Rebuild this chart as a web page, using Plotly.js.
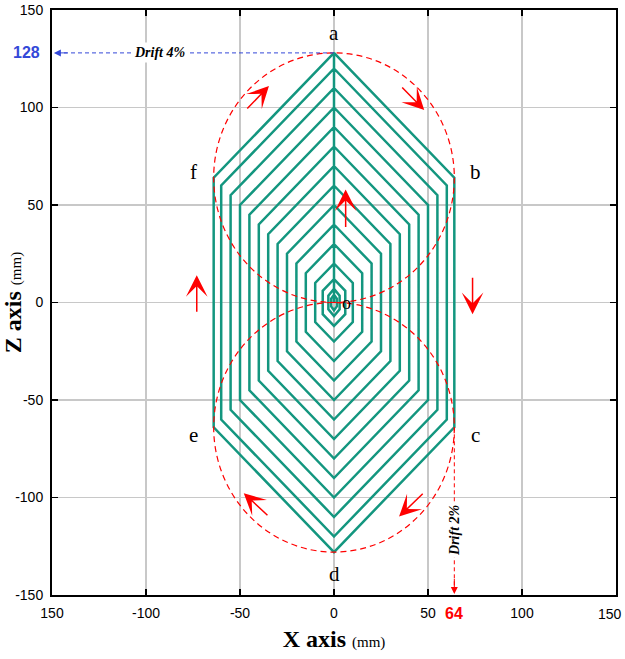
<!DOCTYPE html>
<html>
<head>
<meta charset="utf-8">
<script src="https://cdn.plot.ly/plotly-3.0.1.min.js"></script>
<style>
  html, body { margin: 0; padding: 0; background: #fff; }
  #chart { width: 625px; height: 659px; }
</style>
</head>
<body>
<div id="chart"></div>
<script>
// Hexagonal loading cycles: half-width in X, shoulder height and peak height in Z (mm)
const halfWidthX = [1.5, 3, 6, 10, 15, 20, 25, 30, 35, 40, 45, 50, 55, 60, 64];
const shoulderZ  = [2, 3.5, 6, 10, 15, 20, 25, 30, 35, 40, 45, 50, 55, 60, 64];
const peakZ      = [4, 7, 12, 20, 30, 40, 50, 60, 70, 80, 90, 100, 110, 120, 128];

// Axis ticks (the right-most X label sits on the page edge and is drawn separately)
const tickVals = [-150, -100, -50, 0, 50, 100, 150];
const xTickText = ['150', '-100', '-50', '0', '50', '100', ''];
const xEdgeLabel = '150';
const yTickText = ['-150', '-100', '-50', '0', '50', '100', '150'];

// Corner labels of the outer cycle
const cornerNames = ['a', 'b', 'c', 'd', 'e', 'f'];
const cornerX = [0, 75, 75, 0, -75, -75];
const cornerZ = [138, 67, -68, -139, -68, 67];

// Drift levels marked on the axes
const driftZ = 128;
const driftX = 64;

// Loading path: climb up the centre line to each peak, then go round the hexagon a-b-c-d-e-f-a
const pathX = [0];
const pathZ = [0];
for (let i = 0; i < peakZ.length; i++) {
  const w = halfWidthX[i], s = shoulderZ[i], p = peakZ[i];
  pathX.push(0, w, w, 0, -w, -w, 0);
  pathZ.push(p, s, -s, -p, -s, s, p);
}

const TEAL = '#13967f';
const RED = '#ff0000';
const BLUE = '#3348d8';
const SERIF = '"Liberation Serif", "Times New Roman", serif';
const SANS = '"Liberation Sans", Arial, sans-serif';

const traces = [{
  type: 'scatter',
  mode: 'lines',
  x: pathX,
  y: pathZ,
  line: { color: TEAL, width: 2.5 },
  hoverinfo: 'skip',
  showlegend: false
}];

// Direction arrows (head x,y ; tail ax,ay) in data units
const arrows = [
  [-34.6, 111, -46.9, 98.7],
  [48, 98.7, 35.5, 111],
  [6.2, 58, 6.2, 38],
  [-73, 14, -73, -5.5],
  [73.7, -6, 73.7, 13.5],
  [34.6, -109.8, 48, -97.3],
  [-48, -97.8, -34.6, -109.8]
];

const annotations = arrows.map(a => ({
  x: a[0], y: a[1], ax: a[2], ay: a[3],
  xref: 'x', yref: 'y', axref: 'x', ayref: 'y',
  text: '', showarrow: true,
  arrowhead: 3, arrowsize: 2.4, arrowwidth: 1.5, arrowcolor: RED
}));

// Corner letters
cornerNames.forEach((t, i) => annotations.push({
  x: cornerX[i], y: cornerZ[i], xref: 'x', yref: 'y',
  text: t, showarrow: false,
  font: { family: SERIF, size: 21, color: '#000' }
}));
annotations.push({
  x: 6.5, y: 0, xref: 'x', yref: 'y', text: 'o', showarrow: false,
  font: { family: SERIF, size: 18, color: '#000' }
});

// Drift markers
annotations.push(
  { x: -149, y: driftZ, ax: -141, ay: driftZ, xref: 'x', yref: 'y', axref: 'x', ayref: 'y',
    text: '', showarrow: true, arrowhead: 2, arrowsize: 1.4, arrowwidth: 1, arrowcolor: BLUE },
  { x: -93, y: driftZ, xref: 'x', yref: 'y', text: '<b><i>Drift 4%</i></b>', showarrow: false,
    bgcolor: '#fff', borderpad: 2, font: { family: SERIF, size: 14, color: '#000' } },
  { x: -0.045, y: driftZ, xref: 'paper', yref: 'y', xanchor: 'center', yanchor: 'middle',
    text: '<b>128</b>', showarrow: false,
    font: { family: SANS, size: 16, color: BLUE } },
  { x: driftX, y: -149.5, ax: driftX, ay: -141, xref: 'x', yref: 'y', axref: 'x', ayref: 'y',
    text: '', showarrow: true, arrowhead: 2, arrowsize: 1.4, arrowwidth: 1, arrowcolor: RED },
  { x: driftX, y: -117, xref: 'x', yref: 'y', text: '<b><i>Drift 2%</i></b>', showarrow: false,
    textangle: -90, bgcolor: '#fff', borderpad: 1, font: { family: SERIF, size: 14, color: '#000' } },
  { x: driftX, y: -0.032, xref: 'x', yref: 'paper', xanchor: 'center', yanchor: 'middle',
    text: '<b>64</b>', showarrow: false,
    font: { family: SANS, size: 16, color: RED } },
  { x: 1.0142, y: -0.032, xref: 'paper', yref: 'paper', xanchor: 'right', yanchor: 'middle',
    text: xEdgeLabel, showarrow: false,
    font: { family: SANS, size: 14, color: '#000' } }
);

const shapes = [
  { type: 'circle', xref: 'x', yref: 'y', x0: -driftX, x1: driftX, y0: 0, y1: driftZ,
    line: { color: RED, width: 1.2, dash: '6px,4px' } },
  { type: 'circle', xref: 'x', yref: 'y', x0: -driftX, x1: driftX, y0: -driftZ, y1: 0,
    line: { color: RED, width: 1.2, dash: '6px,4px' } },
  { type: 'line', xref: 'x', yref: 'y', x0: 0, x1: -146, y0: driftZ, y1: driftZ,
    line: { color: BLUE, width: 1, dash: '4px,3px' } },
  { type: 'line', xref: 'x', yref: 'y', x0: driftX, x1: driftX, y0: -64, y1: -147,
    line: { color: RED, width: 1, dash: '4px,3px' } }
];

const axisCommon = {
  range: [-150, 150],
  tickmode: 'array',
  tickvals: tickVals,
  ticks: 'inside',
  ticklen: 6,
  tickwidth: 1.5,
  tickcolor: '#000',
  showline: true,
  linewidth: 2,
  linecolor: '#000',
  mirror: 'ticks',
  showgrid: true,
  gridcolor: '#c8c8c8',
  gridwidth: 1.5,
  zeroline: false,
  fixedrange: true,
  tickfont: { family: SANS, size: 14, color: '#000' }
};

const layout = {
  width: 625,
  height: 659,
  margin: { l: 52, r: 9, t: 10, b: 64 },
  paper_bgcolor: '#fff',
  plot_bgcolor: '#fff',
  showlegend: false,
  xaxis: Object.assign({}, axisCommon, {
    ticktext: xTickText,
    ticklabelstandoff: 4,
    title: { text: '<b>X axis</b> <span style="font-size:15px">(mm)</span>',
             font: { family: SERIF, size: 24, color: '#000' }, standoff: 10 }
  }),
  yaxis: Object.assign({}, axisCommon, {
    ticktext: yTickText,
    ticklabelstandoff: 4,
    title: { text: '<b>Z axis</b> <span style="font-size:15px">(mm)</span>',
             font: { family: SERIF, size: 24, color: '#000' }, standoff: 6 }
  }),
  shapes: shapes,
  annotations: annotations
};

Plotly.newPlot('chart', traces, layout, { displayModeBar: false, staticPlot: true });
</script>
</body>
</html>
